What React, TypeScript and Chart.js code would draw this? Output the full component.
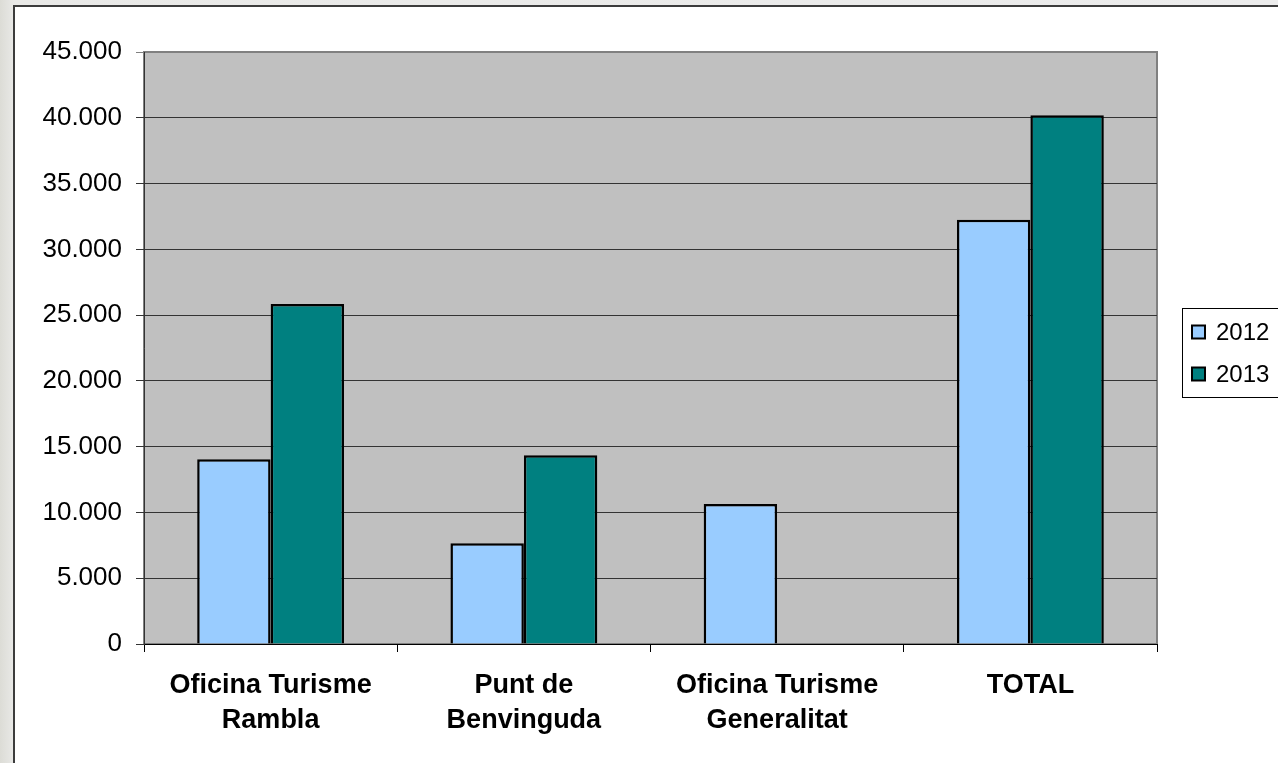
import React, { useEffect, useRef } from 'react';
import { Chart, registerables } from 'chart.js';

Chart.register(...registerables);

// ---- data ----
const categories: (string | string[])[] = [
  ['Oficina Turisme', 'Rambla'],
  ['Punt de', 'Benvinguda'],
  ['Oficina Turisme', 'Generalitat'],
  'TOTAL',
];
const seriesNames = ['2012', '2013'];
const values2012 = [14050, 7650, 10650, 32250];
const values2013: (number | null)[] = [25850, 14350, null, 40200];
const seriesColors = ['#99CCFF', '#008080'];
const yMin = 0;
const yMax = 45000;
const yStep = 5000;

const FONT = "'Liberation Sans', Arial, Helvetica, sans-serif";

function formatThousands(v: number): string {
  const s = Math.round(v).toString();
  return s.replace(/\B(?=(\d{3})+(?!\d))/g, '.');
}

const plotBgPlugin = {
  id: 'plotBg',
  beforeDraw(chart: any) {
    const { ctx, chartArea } = chart;
    if (!chartArea) return;
    ctx.save();
    ctx.fillStyle = '#C0C0C0';
    ctx.fillRect(chartArea.left, chartArea.top, chartArea.right - chartArea.left, chartArea.bottom - chartArea.top);
    ctx.strokeStyle = '#808080';
    ctx.lineWidth = 2;
    ctx.strokeRect(chartArea.left, chartArea.top, chartArea.right - chartArea.left, chartArea.bottom - chartArea.top);
    ctx.restore();
  },
};

const boxLegendPlugin = {
  id: 'boxLegend',
  afterDraw(chart: any) {
    const { ctx } = chart;
    const datasets = chart.data.datasets;
    const boxX = 1182.5;
    const boxY = 308.5;
    const boxW = 130;
    const boxH = 89;
    ctx.save();
    ctx.fillStyle = '#FFFFFF';
    ctx.fillRect(boxX, boxY, boxW, boxH);
    ctx.strokeStyle = '#000000';
    ctx.lineWidth = 1;
    ctx.strokeRect(boxX, boxY, boxW, boxH);
    datasets.forEach((ds: any, i: number) => {
      const cy = 332 + i * 42;
      const sz = 13;
      ctx.fillStyle = ds.backgroundColor;
      ctx.fillRect(1192, cy - sz / 2, sz, sz);
      ctx.strokeStyle = '#000000';
      ctx.lineWidth = 2;
      ctx.strokeRect(1192, cy - sz / 2, sz, sz);
      ctx.fillStyle = '#000000';
      ctx.font = `24px ${FONT}`;
      ctx.textBaseline = 'middle';
      ctx.textAlign = 'left';
      ctx.fillText(ds.label, 1216, cy + 1);
    });
    ctx.restore();
  },
};

export default function App() {
  const canvasRef = useRef<HTMLCanvasElement | null>(null);

  useEffect(() => {
    const canvas = canvasRef.current;
    if (!canvas) return;
    const chart = new Chart(canvas, {
      type: 'bar',
      data: {
        labels: categories as any,
        datasets: [
          {
            label: seriesNames[0],
            data: values2012,
            backgroundColor: seriesColors[0],
            borderColor: '#000000',
            borderWidth: 2.5,
            categoryPercentage: 0.58,
            barPercentage: 1,
          },
          {
            label: seriesNames[1],
            data: values2013 as any,
            backgroundColor: seriesColors[1],
            borderColor: '#000000',
            borderWidth: 2.5,
            categoryPercentage: 0.58,
            barPercentage: 1,
          },
        ],
      },
      options: {
        responsive: false,
        animation: false,
        devicePixelRatio: 1,
        layout: { padding: { left: 0, top: 52, right: 121, bottom: 0 } },
        plugins: {
          legend: { display: false },
          tooltip: { enabled: false },
          title: { display: false },
        },
        scales: {
          x: {
            type: 'category',
            offset: true,
            grid: {
              offset: true,
              drawOnChartArea: false,
              drawTicks: true,
              tickLength: 8,
              color: '#000000',
            },
            border: { display: true, color: '#000000', width: 1 },
            ticks: {
              color: '#000000',
              padding: 16,
              maxRotation: 0,
              autoSkip: false,
              font: { family: FONT, size: 27, weight: 'bold', lineHeight: 1.3 },
            },
            afterFit: (scale: any) => {
              scale.height = 119;
            },
          },
          y: {
            min: yMin,
            max: yMax,
            ticks: {
              stepSize: yStep,
              color: '#000000',
              padding: 14,
              font: { family: FONT, size: 26 },
              callback: (v: any) => formatThousands(Number(v)),
            },
            grid: {
              drawTicks: true,
              tickLength: 8,
              color: (ctx: any) => (ctx.tick && ctx.tick.value === yMax ? '#808080' : '#333333'),
            },
            border: { display: true, color: '#333333', width: 1 },
            afterFit: (scale: any) => {
              scale.width = 144;
            },
          },
        },
      } as any,
      plugins: [plotBgPlugin, boxLegendPlugin],
    });
    return () => {
      chart.destroy();
    };
  }, []);

  return (
    <div
      style={{
        position: 'fixed',
        left: 0,
        top: 0,
        width: 1278,
        height: 763,
        overflow: 'hidden',
        background: 'linear-gradient(90deg, #dcdcd6 0px, #e9e9e7 14px, #ececec 100%)',
      }}
    >
      <div
        style={{
          position: 'absolute',
          left: 13,
          top: 5,
          width: 1320,
          height: 820,
          border: '2px solid #3c3c3c',
          background: '#FFFFFF',
          boxSizing: 'border-box',
        }}
      />
      <canvas
        ref={canvasRef}
        width={1278}
        height={763}
        style={{ position: 'absolute', left: 0, top: 0, width: 1278, height: 763 }}
      />
    </div>
  );
}
